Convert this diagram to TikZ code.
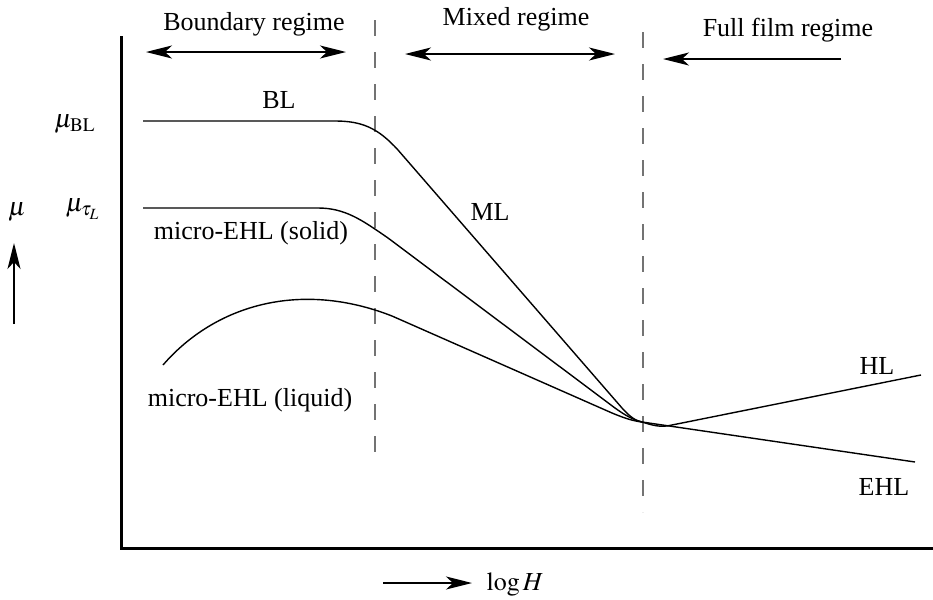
\documentclass[tikz,border=0pt]{standalone}
\usepackage{mathptmx}
\usepackage{fontspec}
\setmainfont{Liberation Serif}
\usetikzlibrary{arrows.meta}
\tikzset{
  curve/.style={line width=0.7pt},
  regime/.style={line width=0.7pt, -{Stealth[length=13pt, width=6.5pt, inset=3.5pt]}},
  both/.style={line width=0.7pt, {Stealth[length=13pt, width=6.5pt, inset=3.5pt]}-{Stealth[length=13pt, width=6.5pt, inset=3.5pt]}},
  border/.style={gray!90!black, line width=0.7pt, dash pattern=on 8pt off 8pt},
  lbl/.style={inner sep=0pt}
}

\begin{document}
\begin{tikzpicture}[x=0.5pt, y=-0.5pt, font=\fontsize{13}{15}\selectfont]
    \useasboundingbox (0,0) rectangle (933,600);

    % axes
    \coordinate (origin) at (121,548);
    \coordinate (ytop) at (121,36);
    \coordinate (xend) at (933,548);
    \draw[line width=1.5pt] (ytop) -- (origin) -- (xend);

    % regime borders
    \draw[border] (375,20) -- (375,452);
    \draw[border] (643,32) -- (643,512);

    % regime labels and arrows
    \node[lbl] (bnd) at (254,24) {Boundary regime};
    \node[lbl] (mix) at (516,19) {Mixed regime};
    \node[lbl] (ful) at (788,30) {Full film regime};
    \coordinate (bndL) at (146,52);  \coordinate (bndR) at (346,52);
    \coordinate (mixL) at (405,54);  \coordinate (mixR) at (615,54);
    \coordinate (fulL) at (663,59);  \coordinate (fulR) at (841,59);
    \draw[both] (bndL) -- (bndR);
    \draw[both] (mixL) -- (mixR);
    \draw[regime] (fulR) -- (fulL);

    % friction curves, all running into the same point
    \coordinate (meet) at (642,422);
    \draw[curve] (143,121) -- (335,121) .. controls (362,121) and (378,128) .. (398,150)
        -- (622,408) .. controls (630,417) and (636,421) .. (meet);
    \draw[curve] (143,208) -- (318,208) .. controls (345,208) and (362,220) .. (388,238)
        -- (615,408) .. controls (626,416) and (634,420) .. (meet);
    \draw[curve] (163,365) .. controls (215,305) and (300,280) .. (392,316)
        -- (612,413) .. controls (624,418) and (633,421) .. (meet);
    \draw[curve] (meet) -- (915,462);
    \draw[curve] (meet) .. controls (652,425) and (660,428) .. (672,425) -- (921,375);

    % curve names
    \node[lbl] (bl)  at (279,100) {BL};
    \node[lbl] (ml)  at (490,212) {ML};
    \node[lbl] (sol) at (251,233) {micro-EHL (solid)};
    \node[lbl] (liq) at (250,400) {micro-EHL (liquid)};
    \node[lbl] (hl)  at (877,366) {HL};
    \node[lbl] (ehl) at (884,487) {EHL};

    % values on the mu axis
    \node[lbl] (mubl) at (75,124) {$\mu_{\mathrm{BL}}$};
    \node[lbl] (mutl) at (83,209) {$\mu_{\tau_L}$};

    % axis names
    \node[lbl] (mu) at (17,212) {$\mu$};
    \coordinate (muA) at (14,324);  \coordinate (muB) at (14,243);
    \draw[regime] (muA) -- (muB);
    \node[lbl] (logh) at (515,584) {$\log H$};
    \coordinate (hA) at (383,583);  \coordinate (hB) at (472,583);
    \draw[regime] (hA) -- (hB);
\end{tikzpicture}
\end{document}
